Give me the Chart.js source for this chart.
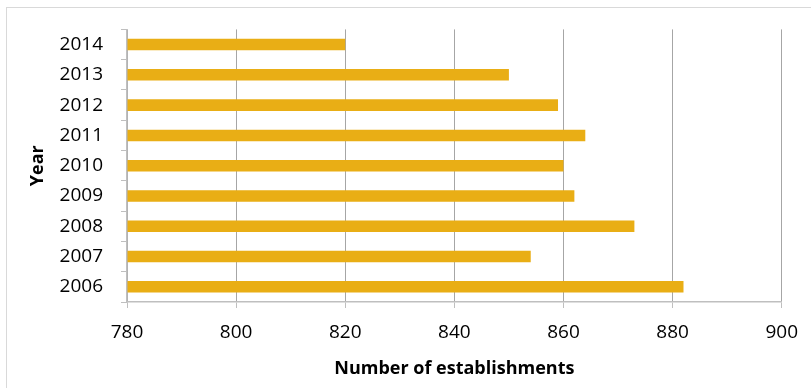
<!DOCTYPE html>
<html>
<head>
<meta charset="utf-8">
<script src="https://cdn.jsdelivr.net/npm/chart.js@4/dist/chart.umd.min.js"></script>
<style>
  html, body { margin: 0; padding: 0; background: #fff; }
  .wrap { position: relative; width: 811px; height: 388px; overflow: hidden; }
  .frame {
    position: absolute; left: 6px; top: 7px; width: 900px; height: 500px;
    border: 1.5px solid #d9d9d9;
  }
  #chart { position: absolute; left: 0; top: 0; }
</style>
</head>
<body>
<div class="wrap">
  <div class="frame"></div>
  <canvas id="chart" width="811" height="388"></canvas>
</div>
<script>
// years from bottom to top
const years = ['2006', '2007', '2008', '2009', '2010', '2011', '2012', '2013', '2014'];
const establishments = [882, 854, 873, 862, 860, 864, 859, 850, 820];

const xMin = 780;
const xMax = 900;
const xStep = 20;

const barColor = '#E9AE15';
const gridColor = '#a6a6a6';
const axisColor = '#bfbfbf';
const fontFamily = '"Open Sans", "Noto Sans", sans-serif';

const canvas = document.getElementById('chart');

new Chart(canvas, {
  type: 'bar',
  data: {
    labels: years,
    datasets: [{
      data: establishments,
      backgroundColor: barColor,
      borderWidth: 0,
      base: xMin,
      categoryPercentage: 1,
      barPercentage: 0.38
    }]
  },
  options: {
    indexAxis: 'y',
    responsive: false,
    animation: false,
    devicePixelRatio: 1,
    layout: { padding: { left: 0, top: 26, right: 28, bottom: 0 } },
    plugins: {
      legend: { display: false },
      tooltip: { enabled: false }
    },
    scales: {
      x: {
        min: xMin,
        max: xMax,
        ticks: {
          stepSize: xStep,
          color: '#000',
          padding: 13,
          font: { family: fontFamily, size: 19 }
        },
        grid: {
          color: gridColor,
          tickColor: axisColor,
          tickLength: 6,
          lineWidth: 1
        },
        border: { color: axisColor, width: 1.5 },
        title: {
          display: true,
          text: 'Number of establishments',
          color: '#000',
          font: { family: fontFamily, size: 18, weight: 'bold' },
          padding: { top: 4, bottom: 8 }
        },
        afterFit: scale => { scale.height = 86; }
      },
      y: {
        reverse: true,
        ticks: {
          color: '#000',
          padding: 18,
          font: { family: fontFamily, size: 19 }
        },
        grid: {
          drawOnChartArea: false,
          color: axisColor,
          tickLength: 6
        },
        border: { color: axisColor, width: 1.5 },
        title: {
          display: true,
          text: 'Year',
          color: '#000',
          font: { family: fontFamily, size: 18, weight: 'bold' },
          padding: { top: 27, bottom: 0 }
        },
        afterFit: scale => { scale.width = 127; }
      }
    }
  }
});
</script>
</body>
</html>
